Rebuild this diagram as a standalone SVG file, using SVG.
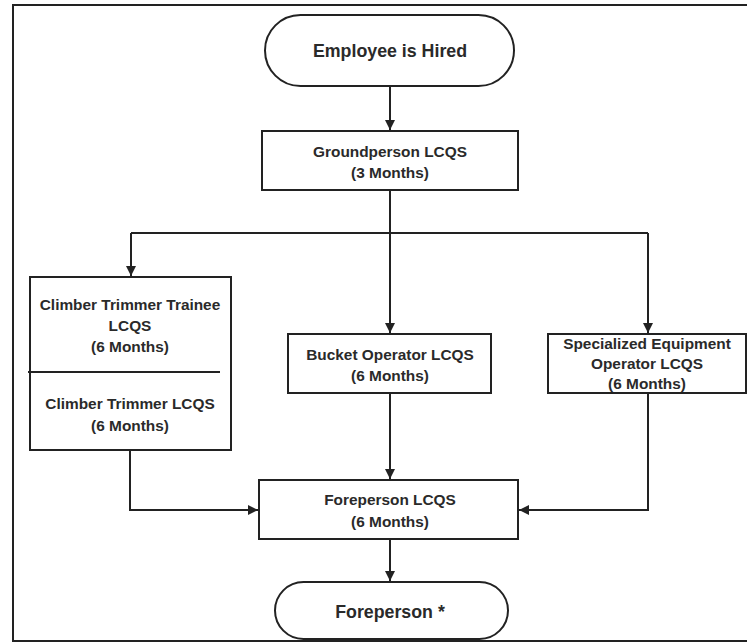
<svg xmlns="http://www.w3.org/2000/svg" width="747" height="644" viewBox="0 0 747 644">
<defs>
<style>
.box{fill:#fff;stroke:#222;stroke-width:2}
.t{font-family:"Liberation Sans",Arial,sans-serif;font-size:15.4px;font-weight:bold;fill:#2a2a2a;text-anchor:middle}
.big{font-size:17.8px}
.c{fill:none;stroke:#222;stroke-width:2}
</style>
<marker id="ah" markerWidth="12" markerHeight="12" refX="10" refY="5" orient="auto" markerUnits="userSpaceOnUse">
<path d="M0,0 L10,5 L0,10 Z" fill="#222"/>
</marker>
</defs>
<rect width="747" height="644" fill="#fff"/>
<g id="frame"><path d="M760,5 H13 V641 H760" fill="none" stroke="#222" stroke-width="2"/></g>
<g id="connectors">
<path class="c" d="M390,86 V130" marker-end="url(#ah)"/>
<path class="c" d="M390,190 V233"/>
<path class="c" d="M131,233 H648"/>
<path class="c" d="M131,233 V276" marker-end="url(#ah)"/>
<path class="c" d="M390,233 V333" marker-end="url(#ah)"/>
<path class="c" d="M648,233 V333" marker-end="url(#ah)"/>
<path class="c" d="M390,393 V479" marker-end="url(#ah)"/>
<path class="c" d="M130,450 V510 H258" marker-end="url(#ah)"/>
<path class="c" d="M648,393 V510 H519" marker-end="url(#ah)"/>
<path class="c" d="M390,539 V581" marker-end="url(#ah)"/>
</g>
<g id="start">
<rect class="box" x="265" y="15" width="249" height="71" rx="35.5"/>
<text class="t big" x="390" y="57">Employee is Hired</text>
</g>
<g id="groundperson">
<rect class="box" x="262" y="131" width="256" height="59"/>
<text class="t" x="390" y="157">Groundperson LCQS</text>
<text class="t" x="390" y="178">(3 Months)</text>
</g>
<g id="climber">
<rect class="box" x="30" y="277" width="201" height="173"/>
<text class="t" x="130" y="310">Climber Trimmer Trainee</text>
<text class="t" x="130" y="331">LCQS</text>
<text class="t" x="130" y="352">(6 Months)</text>
<line x1="28" y1="372" x2="220" y2="372" stroke="#222" stroke-width="2"/>
<text class="t" x="130" y="409">Climber Trimmer LCQS</text>
<text class="t" x="130" y="431">(6 Months)</text>
</g>
<g id="bucket">
<rect class="box" x="288" y="334" width="203" height="59"/>
<text class="t" x="390" y="360">Bucket Operator LCQS</text>
<text class="t" x="390" y="381">(6 Months)</text>
</g>
<g id="specialized">
<rect class="box" x="548" y="334" width="198" height="59"/>
<text class="t" x="647" y="349">Specialized Equipment</text>
<text class="t" x="647" y="369">Operator LCQS</text>
<text class="t" x="647" y="389">(6 Months)</text>
</g>
<g id="foreperson-lcqs">
<rect class="box" x="259" y="480" width="259" height="59"/>
<text class="t" x="390" y="505">Foreperson LCQS</text>
<text class="t" x="390" y="527">(6 Months)</text>
</g>
<g id="foreperson">
<rect class="box" x="275" y="582" width="233" height="57" rx="28.5"/>
<text class="t big" x="390" y="618">Foreperson *</text>
</g>
</svg>
